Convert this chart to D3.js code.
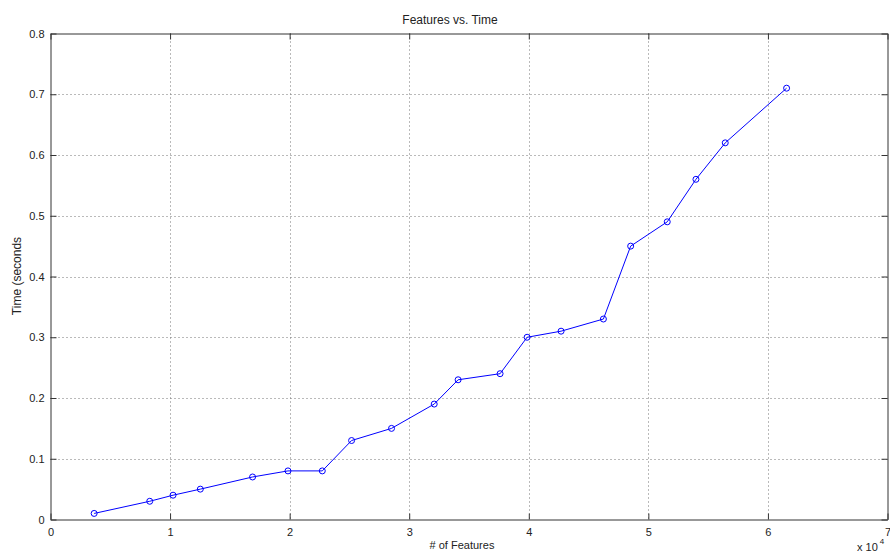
<!DOCTYPE html>
<html>
<head>
<meta charset="utf-8">
<script src="https://cdn.jsdelivr.net/npm/d3@7"></script>
<style>
  html, body { margin: 0; padding: 0; background: #fff; }
  svg { display: block; }
  text { font-family: "Liberation Sans", Arial, Helvetica, sans-serif; fill: #222; }
</style>
</head>
<body>
<svg id="chart" width="890" height="554"></svg>
<script>
// Number of features (in units of 10^4) and measured time in seconds
const features = [0.365, 0.83, 1.025, 1.253, 1.69, 1.986, 2.273, 2.518, 2.852, 3.209,
                  3.409, 3.76, 3.986, 4.27, 4.624, 4.852, 5.158, 5.398, 5.643, 6.156];
const times    = [0.01, 0.03, 0.04, 0.05, 0.07, 0.08, 0.08, 0.13, 0.15, 0.19,
                  0.23, 0.24, 0.30, 0.31, 0.33, 0.45, 0.49, 0.56, 0.62, 0.71];
const xTicks = [0, 1, 2, 3, 4, 5, 6, 7];
const yTicks = [0, 0.1, 0.2, 0.3, 0.4, 0.5, 0.6, 0.7, 0.8];

const svg = d3.select("#chart");
const plotLeft = 50.5, plotRight = 887.5, plotTop = 33.5, plotBottom = 519.5;

const x = d3.scaleLinear().domain([0, 7]).range([plotLeft, plotRight]);
const y = d3.scaleLinear().domain([0, 0.8]).range([plotBottom, plotTop]);

// grid
const grid = svg.append("g").attr("stroke", "#555").attr("stroke-width", 1)
  .attr("stroke-dasharray", "1,3").attr("opacity", 0.8);
xTicks.slice(1, -1).forEach(t => {
  grid.append("line").attr("x1", Math.round(x(t)) + 0.5).attr("x2", Math.round(x(t)) + 0.5)
    .attr("y1", plotTop).attr("y2", plotBottom);
});
yTicks.slice(1, -1).forEach(t => {
  grid.append("line").attr("y1", Math.round(y(t)) + 0.5).attr("y2", Math.round(y(t)) + 0.5)
    .attr("x1", plotLeft).attr("x2", plotRight);
});

// axes (inward ticks on all four sides)
const tickLen = 6;
const axisColor = "#333";
const bx = svg.append("g")
  .attr("transform", `translate(0,${plotBottom})`)
  .call(d3.axisBottom(x).tickValues(xTicks).tickSizeInner(-tickLen).tickSizeOuter(0).tickPadding(9).tickFormat(d3.format("d")));
const tx = svg.append("g")
  .attr("transform", `translate(0,${plotTop})`)
  .call(d3.axisTop(x).tickValues(xTicks).tickSizeInner(-tickLen).tickSizeOuter(0).tickFormat(""));
const ly = svg.append("g")
  .attr("transform", `translate(${plotLeft},0)`)
  .call(d3.axisLeft(y).tickValues(yTicks).tickSizeInner(-tickLen).tickSizeOuter(0).tickPadding(6)
    .tickFormat(d => d === 0 ? "0" : d3.format(".1f")(d)));
const ry = svg.append("g")
  .attr("transform", `translate(${plotRight},0)`)
  .call(d3.axisRight(y).tickValues(yTicks).tickSizeInner(-tickLen).tickSizeOuter(0).tickFormat(""));

[bx, tx, ly, ry].forEach(g => {
  g.selectAll(".domain").attr("stroke", axisColor);
  g.selectAll(".tick line").attr("stroke", axisColor);
  g.selectAll("text").attr("font-size", 11)
    .attr("font-family", "\"Liberation Sans\", Arial, sans-serif").attr("fill", "#222");
});

// data line
const pts = features.map((f, i) => [f, times[i]]);
svg.append("path")
  .datum(pts)
  .attr("fill", "none")
  .attr("stroke", "#0000ff")
  .attr("stroke-width", 1)
  .attr("d", d3.line().x(d => x(d[0])).y(d => y(d[1])));

svg.append("g").selectAll("circle")
  .data(pts).join("circle")
  .attr("cx", d => x(d[0])).attr("cy", d => y(d[1]))
  .attr("r", 3)
  .attr("fill", "none").attr("stroke", "#0000ff").attr("stroke-width", 1);

// title and labels
svg.append("text").attr("x", 450).attr("y", 24).attr("text-anchor", "middle")
  .attr("font-size", 12).text("Features vs. Time");
svg.append("text").attr("x", 462).attr("y", 549).attr("text-anchor", "middle")
  .attr("font-size", 11).text("# of Features");
svg.append("text").attr("transform", "translate(21,276) rotate(-90)")
  .attr("text-anchor", "middle").attr("font-size", 12).text("Time (seconds");

// exponent label
const ex = svg.append("text").attr("x", 857).attr("y", 551).attr("font-size", 11);
ex.append("tspan").text("x 10");
ex.append("tspan").attr("dy", -7).attr("dx", 2).attr("font-size", 8).text("4");
</script>
</body>
</html>
